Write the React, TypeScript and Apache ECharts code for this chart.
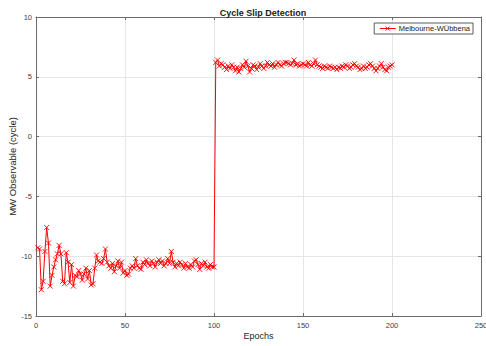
import React, { useEffect, useRef } from "react";
import * as echarts from "echarts";

const title = "Cycle Slip Detection";
const seriesName = "Melbourne-WÜbbena";
const xName = "Epochs";
const yName = "MW Observable (cycle)";

const valuesBefore = [
  -9.3, -9.4, -12.8, -12.1, -9.6, -7.6, -8.9, -12.5, -11.6, -10.9,
  -10.3, -9.8, -9.1, -9.8, -12.1, -12.3, -9.7, -10.5, -12.2, -10.7,
  -12.5, -11.6, -11.7, -11.2, -11.5, -12.0, -11.5, -11.0, -11.9, -11.2,
  -12.4, -12.3, -11.0, -9.9, -10.4, -10.5, -10.6, -10.2, -9.4, -10.5,
  -10.8, -11.0, -10.6, -11.3, -10.8, -10.4, -11.0, -10.5, -11.4, -11.2,
  -11.6, -11.5, -11.0, -10.8, -11.0, -10.2, -10.8, -11.0, -11.1, -10.5,
  -10.7, -10.3, -10.6, -10.8, -10.4, -10.6, -10.9, -10.5, -10.3, -10.6,
  -10.4, -10.8, -10.6, -10.2, -10.6, -9.6, -10.5, -10.9, -10.6, -10.8,
  -10.5, -10.7, -11.0, -10.6, -10.9, -11.0, -10.7, -10.9, -10.4, -10.3,
  -10.7, -11.1, -10.6, -10.8, -10.5, -10.9, -11.0, -10.7, -10.9, -10.9,
];

const valuesAfter = [
  6.2, 6.4, 5.9, 6.1, 6.0, 5.8, 5.6, 5.9, 5.7, 6.0,
  5.8, 5.5, 5.8, 5.4, 5.7, 6.0, 5.8, 6.3, 5.9, 5.4,
  5.7, 6.0, 5.9, 5.6, 5.8, 6.1, 5.9, 5.7, 5.9, 6.2,
  6.0, 5.9, 6.1, 5.8, 6.0, 6.2, 6.0, 5.9, 6.1, 6.2,
  6.2, 6.1, 6.0, 6.1, 6.4, 6.0, 6.1, 5.9, 6.0, 6.1,
  6.0, 5.9, 6.2, 6.0, 5.9, 6.1, 6.4, 6.0, 5.9, 5.8,
  5.7, 5.9, 5.8, 5.7, 5.9, 5.8, 5.7, 5.8, 5.6, 5.8,
  5.7, 5.9, 5.8, 6.0, 5.9, 5.7, 5.8, 6.0, 6.1, 5.9,
  5.8, 5.6, 5.7, 5.9, 5.7, 5.8, 6.0, 6.1, 5.9, 5.7,
  5.5, 5.7, 5.9, 6.1, 5.8, 5.6, 5.5, 5.8, 5.9, 6.0,
];

const xMin = 0;
const xMax = 250;
const xInterval = 50;
const yMin = -15;
const yMax = 10;
const yInterval = 5;

const FONT = "Liberation Sans, Arial, sans-serif";
const AXIS = "#6b6b6b";
const TEXT = "#404040";
const GRID = "#e6e6e6";

export default function App() {
  const ref = useRef<HTMLDivElement>(null);
  useEffect(() => {
    if (!ref.current) return;
    const chart = echarts.init(ref.current, null, { renderer: "svg" });
    const allValues = [...valuesBefore, ...valuesAfter];
    const data = allValues.map((v, i) => [i + 1, v]);
    const xMark = "path://M0,0L10,10M10,0L0,10";
    const legendIcon = "path://M0,4L16,4M6,2L10,6M10,2L6,6";

    const mirrorX = {
      type: "value",
      position: "top",
      min: xMin,
      max: xMax,
      interval: xInterval,
      axisLine: { show: true, onZero: false, lineStyle: { color: AXIS, width: 1 } },
      axisTick: { show: true, inside: true, length: 3, lineStyle: { color: AXIS } },
      axisLabel: { show: false },
      splitLine: { show: false },
    };
    const mirrorY = {
      type: "value",
      position: "right",
      min: yMin,
      max: yMax,
      interval: yInterval,
      axisLine: { show: true, onZero: false, lineStyle: { color: AXIS, width: 1 } },
      axisTick: { show: true, inside: true, length: 3, lineStyle: { color: AXIS } },
      axisLabel: { show: false },
      splitLine: { show: false },
    };

    chart.setOption({
      animation: false,
      backgroundColor: "#ffffff",
      textStyle: { fontFamily: FONT },
      title: {
        text: title,
        left: 258,
        top: 3,
        textAlign: "center",
        textStyle: { fontFamily: FONT, fontSize: 9, fontWeight: "bold", color: "#1a1a1a" },
      },
      legend: {
        show: true,
        right: 13,
        top: 23,
        orient: "vertical",
        borderColor: "#333333",
        borderWidth: 0.8,
        padding: [1, 3, 1, 3],
        itemWidth: 16,
        itemHeight: 8,
        itemGap: 2,
        backgroundColor: "#ffffff",
        textStyle: { fontFamily: FONT, fontSize: 7.5, color: "#222222", padding: [0, 0, 0, -2] },
        data: [
          {
            name: seriesName,
            icon: legendIcon,
            itemStyle: { color: "none", borderColor: "#ff0000", borderWidth: 1 },
          },
        ],
      },
      grid: { left: 36, right: 5, top: 17, bottom: 30, containLabel: false, outerBoundsMode: "none" },
      xAxis: [
        {
          type: "value",
          position: "bottom",
          min: xMin,
          max: xMax,
          interval: xInterval,
          name: xName,
          nameLocation: "middle",
          nameGap: 15,
          nameMoveOverlap: false,
          nameTextStyle: { fontFamily: FONT, fontSize: 9, color: "#262626" },
          axisLine: { show: true, onZero: false, lineStyle: { color: AXIS, width: 1 } },
          axisTick: { show: true, inside: true, length: 3, lineStyle: { color: AXIS } },
          axisLabel: { fontFamily: FONT, fontSize: 7.5, color: TEXT, margin: 5 },
          splitLine: { show: true, lineStyle: { color: GRID, width: 1 } },
        },
        mirrorX,
      ],
      yAxis: [
        {
          type: "value",
          position: "left",
          min: yMin,
          max: yMax,
          interval: yInterval,
          name: yName,
          nameLocation: "middle",
          nameGap: 19,
          nameMoveOverlap: false,
          nameTextStyle: { fontFamily: FONT, fontSize: 9.5, color: "#262626" },
          axisLine: { show: true, onZero: false, lineStyle: { color: AXIS, width: 1 } },
          axisTick: { show: true, inside: true, length: 3, lineStyle: { color: AXIS } },
          axisLabel: { fontFamily: FONT, fontSize: 7.5, color: TEXT, margin: 4 },
          splitLine: { show: true, lineStyle: { color: GRID, width: 1 } },
        },
        mirrorY,
      ],
      series: [
        {
          name: seriesName,
          type: "line",
          xAxisIndex: 0,
          yAxisIndex: 0,
          data,
          symbol: xMark,
          symbolSize: 5,
          showSymbol: true,
          showAllSymbol: true,
          lineStyle: { color: "#ff0000", width: 1 },
          itemStyle: { color: "#ff0000", borderColor: "#ff0000", borderWidth: 0.9 },
          emphasis: { disabled: true },
        },
      ],
    });
    return () => chart.dispose();
  }, []);
  return (
    <div
      ref={ref}
      style={{ position: "fixed", left: 0, top: 0, width: 486, height: 346, background: "#fff" }}
    />
  );
}
